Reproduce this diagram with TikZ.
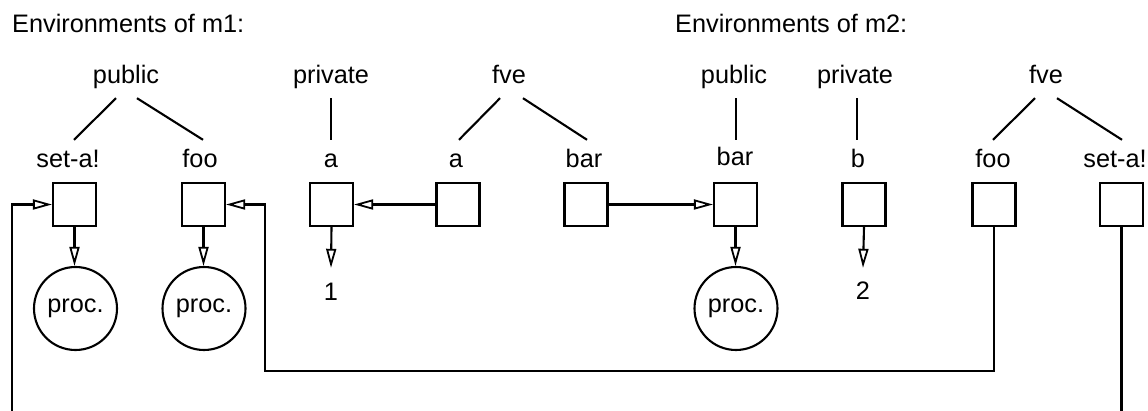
\documentclass[tikz,border=0pt]{standalone}
\usepackage{fontspec}
\setmainfont{Liberation Sans}
\usetikzlibrary{arrows.meta,calc}
\begin{document}
\begin{tikzpicture}[x=1pt,y=-1pt,
  every node/.style={font=\fontsize{25.3}{30}\selectfont},
  lbl/.style={inner sep=0pt,text height=18pt,text depth=5pt,anchor=base},
  cell/.style={draw,line width=2.1pt,minimum width=43pt,minimum height=43pt,inner sep=0pt},
  procnode/.style={draw,circle,line width=2.1pt,minimum size=83pt,inner sep=0pt},
  edge/.style={line width=2.1pt},
  arr/.style={line width=2.1pt,-{Triangle[open,length=19pt,width=10pt,line width=1.8pt]}}
]
\useasboundingbox (0,0) rectangle (1148,411);
% titles
\node[lbl,anchor=base west] (t1) at (12,33) {Environments of m1:};
\node[lbl,anchor=base west] (t2) at (675,33) {Environments of m2:};
% top labels
\node[lbl] (pub1) at (126,84) {public};
\node[lbl] (priv1) at (331,84) {private};
\node[lbl] (fve1) at (509,84) {fve};
\node[lbl] (pub2) at (734,84) {public};
\node[lbl] (priv2) at (855,84) {private};
\node[lbl] (fve2) at (1046,84) {fve};
% second-row labels
\node[lbl] (seta1) at (68,168) {set-a!};
\node[lbl] (foo1) at (200,168) {foo};
\node[lbl] (a1) at (331,168) {a};
\node[lbl] (afve) at (456,168) {a};
\node[lbl] (barfve) at (584,168) {bar};
\node[lbl] (bar2) at (735,166) {bar};
\node[lbl] (b2) at (858,168) {b};
\node[lbl] (foo2) at (993,168) {foo};
\node[lbl] (seta2) at (1115,168) {set-a!};
% tree lines
\draw[edge] ($(pub1.south)+(-10,9)$) -- ($(seta1.north)+(6,-10)$);
\draw[edge] ($(pub1.south)+(11,9)$) -- ($(foo1.north)+(3,-10)$);
\draw[edge] ($(priv1.south)+(0,9)$) -- ($(a1.north)+(0,-10)$);
\draw[edge] ($(fve1.south)+(-9,9)$) -- ($(afve.north)+(3,-10)$);
\draw[edge] ($(fve1.south)+(14,9)$) -- ($(barfve.north)+(3,-10)$);
\draw[edge] ($(pub2.south)+(2,9)$) -- ($(pub2.south)+(2,51)$);
\draw[edge] ($(priv2.south)+(2,9)$) -- ($(priv2.south)+(2,51)$);
\draw[edge] ($(fve2.south)+(-11,9)$) -- ($(foo2.north)+(0,-10)$);
\draw[edge] ($(fve2.south)+(11,9)$) -- ($(seta2.north)+(7,-10)$);
% boxes
\node[cell] (bx1) at (74.5,204.5) {};
\node[cell] (bx2) at (203.5,204.5) {};
\node[cell] (bx3) at (331.5,204.5) {};
\node[cell] (bx4) at (458,204.5) {};
\node[cell] (bx5) at (586,204.5) {};
\node[cell] (bx6) at (735.5,204.5) {};
\node[cell] (bx7) at (864,204.5) {};
\node[cell] (bx8) at (994,204.5) {};
\node[cell] (bx9) at (1121.5,204.5) {};
% procedures and values
\node[procnode] (c1) at (75.5,308.5) {proc.};
\node[procnode] (c2) at (204,308.5) {proc.};
\node[procnode] (c3) at (736,308.5) {proc.};
\node[lbl] (n1) at (331,301) {1};
\node[lbl] (n2) at (863,300) {2};
% arrows
\draw[arr] (bx1.south) -- (bx1.south |- c1.north);
\draw[arr] (bx2.south) -- (bx2.south |- c2.north);
\draw[arr] (bx6.south) -- (bx6.south |- c3.north);
\draw[arr] (bx3.south) -- ($(n1.north)+(0,-15)$);
\draw[arr] (bx7.south) -- ($(n2.north)+(0,-14)$);
\draw[arr] (bx4.west) -- (bx3.east);
\draw[arr] (bx5.east) -- (bx6.west);
% long connectors
\coordinate (turn) at (265,371);
\coordinate (lb) at (12,415);
\coordinate (rb) at (1121.5,415);
\draw[arr] (bx8.south) |- (turn) |- (bx2.east);
\draw[arr] (lb) |- (bx1.west);
\draw[edge] (bx9.south) -- (rb);
\end{tikzpicture}
\end{document}
